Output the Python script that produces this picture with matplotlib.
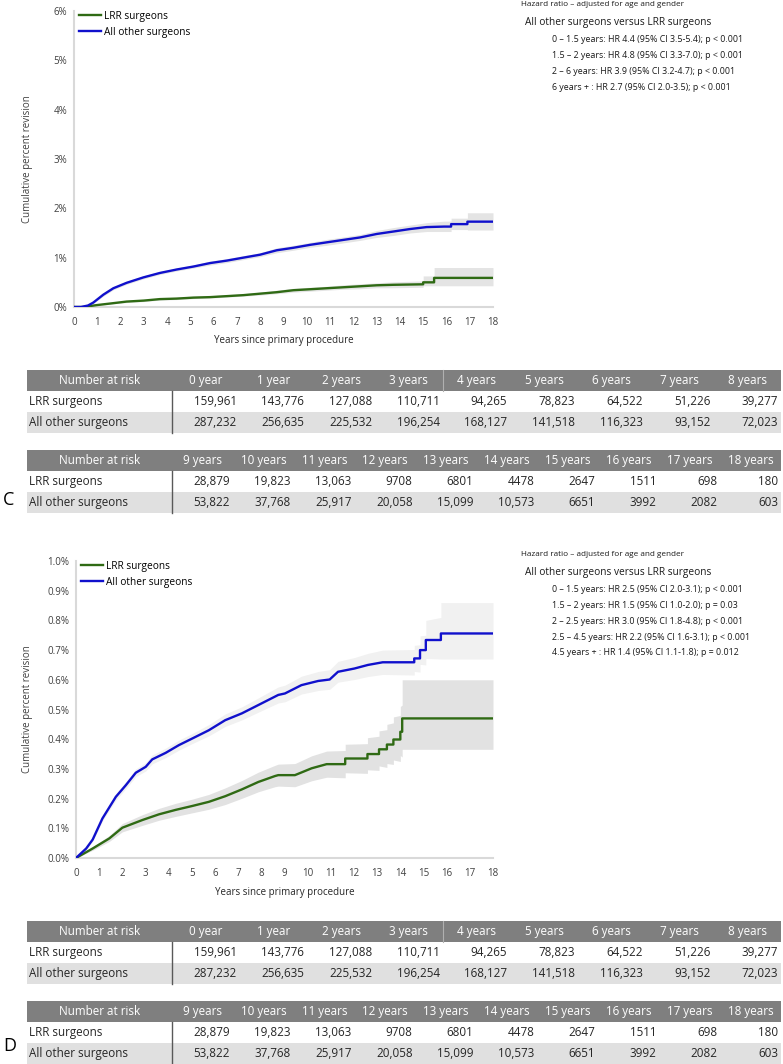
import numpy as np
import matplotlib
matplotlib.use('Agg')
import matplotlib.pyplot as plt
from matplotlib.patches import Rectangle

plt.rcParams['font.family'] = ['Open Sans', 'DejaVu Sans']

W, H = 783, 1064

# ---- panel C: cumulative percent revision (years, %) ----
c_lrr_t = [0, 0.4, 1.0, 1.55, 2.26, 3.0, 3.69, 4.4, 5.13, 5.84, 6.56, 7.27, 7.99, 8.71, 9.42,
           10.14, 10.85, 11.57, 12.29, 13.0, 13.72, 15.0, 15.0, 15.47, 15.47, 18]
c_lrr_v = [0, 0, 0.04, 0.07, 0.11, 0.13, 0.16, 0.17, 0.19, 0.20, 0.22, 0.24, 0.27, 0.30, 0.34,
           0.36, 0.38, 0.40, 0.42, 0.44, 0.45, 0.46, 0.50, 0.50, 0.59, 0.59]
c_lrr_lo = [0, 0, 0.03, 0.06, 0.09, 0.11, 0.14, 0.15, 0.17, 0.18, 0.20, 0.22, 0.24, 0.27, 0.30,
            0.32, 0.34, 0.36, 0.37, 0.39, 0.39, 0.40, 0.43, 0.43, 0.43, 0.43]
c_lrr_hi = [0, 0, 0.05, 0.09, 0.13, 0.15, 0.18, 0.20, 0.22, 0.23, 0.25, 0.27, 0.30, 0.34, 0.38,
            0.40, 0.42, 0.45, 0.47, 0.49, 0.51, 0.53, 0.63, 0.63, 0.80, 0.80]

c_oth_t = [0, 0.3, 0.6, 0.83, 1.26, 1.69, 2.26, 2.98, 3.69, 4.41, 5.13, 5.84, 6.56, 7.27, 7.99,
           8.71, 9.42, 10.14, 10.85, 11.57, 12.29, 13.0, 13.72, 14.43, 15.15, 15.9, 16.2, 16.2,
           16.9, 16.9, 18]
c_oth_v = [0, 0, 0.03, 0.09, 0.25, 0.38, 0.49, 0.60, 0.69, 0.76, 0.82, 0.89, 0.94, 1.00, 1.06,
           1.15, 1.20, 1.26, 1.31, 1.36, 1.41, 1.48, 1.53, 1.58, 1.62, 1.63, 1.63, 1.68,
           1.68, 1.73, 1.73]
c_oth_lo = [0, 0, 0.02, 0.07, 0.22, 0.35, 0.46, 0.57, 0.66, 0.73, 0.79, 0.85, 0.90, 0.96, 1.02,
            1.10, 1.15, 1.21, 1.25, 1.30, 1.35, 1.41, 1.45, 1.50, 1.53, 1.53, 1.53, 1.57,
            1.57, 1.56, 1.56]
c_oth_hi = [0, 0, 0.04, 0.11, 0.28, 0.41, 0.52, 0.63, 0.72, 0.79, 0.85, 0.93, 0.98, 1.04, 1.10,
            1.20, 1.25, 1.31, 1.37, 1.42, 1.47, 1.55, 1.61, 1.66, 1.71, 1.74, 1.74, 1.80,
            1.80, 1.91, 1.91]

# ---- panel D ----
d_lrr_t = [0, 0.72, 1.44, 2.0, 2.87, 3.58, 4.3, 5.01, 5.73, 6.44, 7.16, 7.87, 8.59, 8.73, 9.45,
           10.17, 10.82, 11.62, 11.62, 12.58, 12.58, 13.08, 13.08, 13.42, 13.42, 13.7, 13.7,
           14.0, 14.0, 14.08, 14.08, 18]
d_lrr_v = [0, 0.032, 0.066, 0.102, 0.128, 0.147, 0.162, 0.175, 0.189, 0.208, 0.231, 0.256, 0.276,
           0.279, 0.279, 0.302, 0.316, 0.316, 0.335, 0.335, 0.35, 0.35, 0.366, 0.366, 0.382,
           0.382, 0.399, 0.399, 0.425, 0.425, 0.47, 0.47]
d_lrr_lo = [0, 0.026, 0.056, 0.088, 0.110, 0.127, 0.140, 0.152, 0.164, 0.180, 0.201, 0.223, 0.240,
            0.242, 0.240, 0.260, 0.272, 0.270, 0.287, 0.285, 0.297, 0.295, 0.310, 0.305, 0.318,
            0.315, 0.330, 0.325, 0.345, 0.340, 0.366, 0.366]
d_lrr_hi = [0, 0.038, 0.076, 0.116, 0.146, 0.167, 0.184, 0.198, 0.214, 0.236, 0.261, 0.289, 0.312,
            0.316, 0.318, 0.344, 0.360, 0.362, 0.383, 0.385, 0.405, 0.41, 0.428, 0.432, 0.45,
            0.455, 0.475, 0.48, 0.51, 0.515, 0.60, 0.60]

d_oth_t = [0, 0.44, 0.72, 1.14, 1.72, 2.15, 2.58, 3.01, 3.29, 3.87, 4.44, 5.01, 5.73, 6.44, 7.16,
           7.87, 8.73, 9.02, 9.73, 10.45, 10.95, 11.31, 12.02, 12.6, 13.24, 14.6, 14.6, 14.85,
           14.85, 15.1, 15.1, 15.75, 15.75, 18]
d_oth_v = [0, 0.032, 0.062, 0.133, 0.206, 0.245, 0.287, 0.307, 0.332, 0.354, 0.380, 0.402, 0.430,
           0.464, 0.487, 0.515, 0.549, 0.554, 0.582, 0.596, 0.601, 0.627, 0.638, 0.650, 0.659,
           0.659, 0.672, 0.672, 0.70, 0.70, 0.734, 0.734, 0.756, 0.756]
d_oth_lo = [0, 0.028, 0.056, 0.124, 0.195, 0.233, 0.274, 0.293, 0.317, 0.338, 0.363, 0.385, 0.411,
            0.443, 0.465, 0.491, 0.522, 0.526, 0.552, 0.564, 0.568, 0.592, 0.601, 0.611, 0.618,
            0.616, 0.628, 0.626, 0.652, 0.650, 0.672, 0.670, 0.67, 0.67]
d_oth_hi = [0, 0.036, 0.068, 0.142, 0.217, 0.257, 0.300, 0.321, 0.347, 0.370, 0.397, 0.419, 0.449,
            0.485, 0.509, 0.539, 0.576, 0.582, 0.612, 0.628, 0.634, 0.662, 0.675, 0.689, 0.700,
            0.702, 0.716, 0.718, 0.748, 0.750, 0.80, 0.81, 0.86, 0.86]

# ---- number at risk (same for both panels) ----
risk_years = ['0 year', '1 year'] + ['%d years' % i for i in range(2, 19)]
lrr_risk = [159961, 143776, 127088, 110711, 94265, 78823, 64522, 51226, 39277, 28879,
            19823, 13063, 9708, 6801, 4478, 2647, 1511, 698, 180]
other_risk = [287232, 256635, 225532, 196254, 168127, 141518, 116323, 93152, 72023, 53822,
              37768, 25917, 20058, 15099, 10573, 6651, 3992, 2082, 603]

series_names = ['LRR surgeons', 'All other surgeons']

c_hr = ['0 – 1.5 years: HR 4.4 (95% CI 3.5-5.4); p < 0.001',
        '1.5 – 2 years: HR 4.8 (95% CI 3.3-7.0); p < 0.001',
        '2 – 6 years: HR 3.9 (95% CI 3.2-4.7); p < 0.001',
        '6 years + : HR 2.7 (95% CI 2.0-3.5); p < 0.001']
d_hr = ['0 – 1.5 years: HR 2.5 (95% CI 2.0-3.1); p < 0.001',
        '1.5 – 2 years: HR 1.5 (95% CI 1.0-2.0); p = 0.03',
        '2 – 2.5 years: HR 3.0 (95% CI 1.8-4.8); p < 0.001',
        '2.5 – 4.5 years: HR 2.2 (95% CI 1.6-3.1); p < 0.001',
        '4.5 years + : HR 1.4 (95% CI 1.1-1.8); p = 0.012']

GREEN = '#2f6a14'
BLUE = '#1010cc'
TXT = '#262626'

fig = plt.figure(figsize=(W / 100, H / 100), dpi=100)
over = fig.add_axes([0, 0, 1, 1])
over.set_xlim(0, W)
over.set_ylim(H, 0)
over.axis('off')


def px_axes(left, top, right, bottom):
    return fig.add_axes([left / W, 1 - bottom / H, (right - left) / W, (bottom - top) / H])


def fmt_n(n):
    return f'{n:,}' if n >= 10000 else str(n)


def km_panel(box, ymax, ystep, ylabfmt, lrr, oth, band_cols):
    ax = px_axes(*box)
    t, v, lo, hi = oth
    ax.fill_between(t, lo, hi, color=band_cols[1], lw=0, zorder=1)
    t2, v2, lo2, hi2 = lrr
    ax.fill_between(t2, lo2, hi2, color=band_cols[0], lw=0, zorder=1)
    ax.plot(t2, v2, color=GREEN, lw=1.7, label=series_names[0], zorder=3)
    ax.plot(t, v, color=BLUE, lw=1.7, label=series_names[1], zorder=3)
    ax.set_xlim(0, 18)
    ax.set_ylim(0, ymax)
    ax.set_xticks(range(0, 19))
    yt = np.arange(0, ymax + ystep / 2, ystep)
    ax.set_yticks(yt)
    ax.set_yticklabels([ylabfmt % y for y in yt])
    ax.tick_params(length=0, labelsize=7, colors='#404040', pad=5)
    ax.tick_params(axis='x', pad=7)
    for s in ['top', 'right']:
        ax.spines[s].set_visible(False)
    for s in ['left', 'bottom']:
        ax.spines[s].set_color('#d9d9d9')
        ax.spines[s].set_linewidth(1.5)
    ax.patch.set_alpha(0)
    ax.set_ylabel('Cumulative percent revision', fontsize=7, color='#404040')
    ax.yaxis.set_label_coords(-(box[0] - 33) / (box[2] - box[0]), 0.5)
    ax.set_xlabel('Years since primary procedure', fontsize=7, color='#262626')
    lab = ax.xaxis.label
    lab.set_va('center')
    ax.xaxis.set_label_coords(0.5, -(341 - 307) / (box[3] - box[1]))
    ax.legend(loc='upper left', bbox_to_anchor=(5 / (box[2] - box[0]), 1.0), frameon=False,
              fontsize=7.3, borderpad=0, borderaxespad=0, handlelength=2.2,
              handletextpad=0.3, labelspacing=0.45)
    return ax


def hazard_text(top, lines):
    over.text(521, top, 'Hazard ratio – adjusted for age and gender', fontsize=5.9,
              color='#1a1a1a', va='center')
    over.text(525, top + 18, 'All other surgeons versus LRR surgeons', fontsize=7.3,
              color='#1a1a1a', va='center')
    for i, s in enumerate(lines):
        over.text(552, top + 35 + 15.7 * i, s, fontsize=6.4, color='#1a1a1a', va='center')


def risk_table(top, cols, lrr, oth, sep_col=None):
    rh = 21
    x0, xd, x1 = 27, 172, 781
    cw = (x1 - xd) / len(cols)
    over.add_patch(Rectangle((x0, top), x1 - x0, rh, fc='#7f7f7f', ec='none'))
    over.add_patch(Rectangle((x0, top + 2 * rh), x1 - x0, rh, fc='#e0e0e0', ec='none'))
    over.plot([xd, xd], [top + rh, top + 3 * rh], color='#595959', lw=1.0)
    if sep_col is not None:
        xs = xd + cw * sep_col
        over.plot([xs, xs], [top, top + rh], color='#b0b0b0', lw=0.8)
    fs = 8.4
    over.text((x0 + xd) / 2, top + rh / 2, 'Number at risk', color='white', fontsize=fs,
              ha='center', va='center')
    over.text(29, top + 1.5 * rh, series_names[0], color=TXT, fontsize=fs, va='center')
    over.text(29, top + 2.5 * rh, series_names[1], color=TXT, fontsize=fs, va='center')
    for i, c in enumerate(cols):
        over.text(xd + cw * (i + 0.5), top + rh / 2, c, color='white', fontsize=fs,
                  ha='center', va='center')
        over.text(xd + cw * (i + 1) - 3, top + 1.5 * rh, fmt_n(lrr[i]), color=TXT,
                  fontsize=fs, ha='right', va='center')
        over.text(xd + cw * (i + 1) - 3, top + 2.5 * rh, fmt_n(oth[i]), color=TXT,
                  fontsize=fs, ha='right', va='center')


# panel C
km_panel((74, 11, 493, 307), 6, 1, '%d%%',
         (c_lrr_t, c_lrr_v, c_lrr_lo, c_lrr_hi),
         (c_oth_t, c_oth_v, c_oth_lo, c_oth_hi), ('#e4e4e4', '#e4e4e4'))
hazard_text(5, c_hr)
risk_table(370, risk_years[:9], lrr_risk[:9], other_risk[:9], sep_col=4)
risk_table(450, risk_years[9:], lrr_risk[9:], other_risk[9:])
over.text(3, 500, 'C', fontsize=13, color='black', va='center')

# panel D
km_panel((76, 561, 493, 858), 1.0, 0.1, '%.1f%%',
         (d_lrr_t, d_lrr_v, d_lrr_lo, d_lrr_hi),
         (d_oth_t, d_oth_v, d_oth_lo, d_oth_hi), ('#e2e2e2', '#f1f1f1'))
hazard_text(555, d_hr)
risk_table(921, risk_years[:9], lrr_risk[:9], other_risk[:9], sep_col=4)
risk_table(1001, risk_years[9:], lrr_risk[9:], other_risk[9:])
over.text(3, 1046, 'D', fontsize=13, color='black', va='center')

fig.savefig('out.png', dpi=100)
